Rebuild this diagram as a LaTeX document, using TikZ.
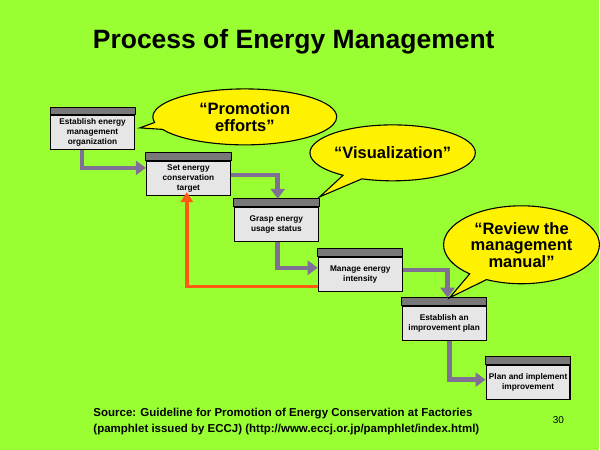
\documentclass[tikz,border=0pt]{standalone}
\usepackage{fontspec}
\setmainfont{Liberation Sans}
\usetikzlibrary{shapes.callouts,arrows.meta}
\definecolor{bg}{RGB}{153,255,51}
\definecolor{hdr}{RGB}{120,120,120}
\definecolor{boxf}{RGB}{230,230,230}
\definecolor{arr}{RGB}{128,112,150}
\definecolor{org}{RGB}{255,90,20}
\begin{document}
\begin{tikzpicture}[x=1pt,y=-1pt,
  pbox/.style={draw=black,line width=1.2pt,fill=boxf,minimum width=84pt,minimum height=34pt,inner sep=1pt,align=center,font=\fontsize{8.3}{10.2}\bfseries,anchor=north west},
  hd/.style={draw=black,line width=0.8pt,fill=hdr},
  flow/.style={draw=arr,line width=4.5pt,-{Triangle[length=10pt,width=14pt]}},
  back/.style={draw=org,line width=3.5pt,-{Triangle[length=10pt,width=12pt]}},
  bubble/.style={ellipse callout,draw=black,line width=1.1pt,fill=yellow,align=center,font=\fontsize{16.5}{16.5}\bfseries,inner sep=0pt}]
\fill[bg] (0,0) rectangle (600,450);
\node[font=\fontsize{26.5}{28}\bfseries] (title) at (294,42) {Process of Energy Management};
\node[pbox] (a) at (50,115) {Establish energy\\management\\organization};
\node[pbox] (b) at (146,161) {Set energy\\conservation\\target};
\node[pbox] (c) at (234,207) {Grasp energy\\usage status};
\node[pbox] (d) at (318,257) {Manage energy\\intensity};
\node[pbox] (e) at (402,306) {Establish an\\improvement plan};
\node[pbox] (f) at (486,365) {Plan and implement\\improvement};
\foreach \n in {a,b,c,d,e,f}{
  \path[hd] (\n.north west) rectangle ([yshift=8pt]\n.north east);
}
\coordinate (p1) at (82,168);
\coordinate (p2) at (278,175);
\coordinate (p3) at (278,268);
\coordinate (p4) at (448,270);
\coordinate (p5) at (450,380);
\coordinate (p6) at (187,287);
\draw[flow] (a.south -| p1) -- (p1) -- (p1 -| b.west);
\draw[flow] (b.east |- p2) -- (p2) -- ([yshift=8pt]c.north -| p2);
\draw[flow] (c.south -| p3) -- (p3) -- (p3 -| d.west);
\draw[flow] (d.east |- p4) -- (p4) -- ([yshift=8pt]e.north -| p4);
\draw[flow] (e.south -| p5) -- (p5) -- (p5 -| f.west);
\draw[back] (d.west |- p6) -- (p6) -- ([yshift=4pt]b.south -| p6);
\node[bubble,minimum width=184pt,minimum height=56pt,callout absolute pointer={(140,128)}] (s1) at (245,117) {``Promotion\\efforts''};
\node[bubble,minimum width=156pt,minimum height=56pt,callout absolute pointer={(320,197)}] (s2) at (393,153) {``Visualization''};
\node[bubble,minimum width=156pt,minimum height=78pt,callout absolute pointer={(450,298)}] (s3) at (522,245) {``Review the\\management\\manual''};
\node[font=\fontsize{11.5}{16}\bfseries,align=left,anchor=north west] (src) at (90,405) {Source: Guideline for Promotion of Energy Conservation at Factories\\(pamphlet issued by ECCJ) (http://www.eccj.or.jp/pamphlet/index.html)};
\node[font=\fontsize{10.5}{12}] (pg) at (559,420) {30};
\end{tikzpicture}
\end{document}
